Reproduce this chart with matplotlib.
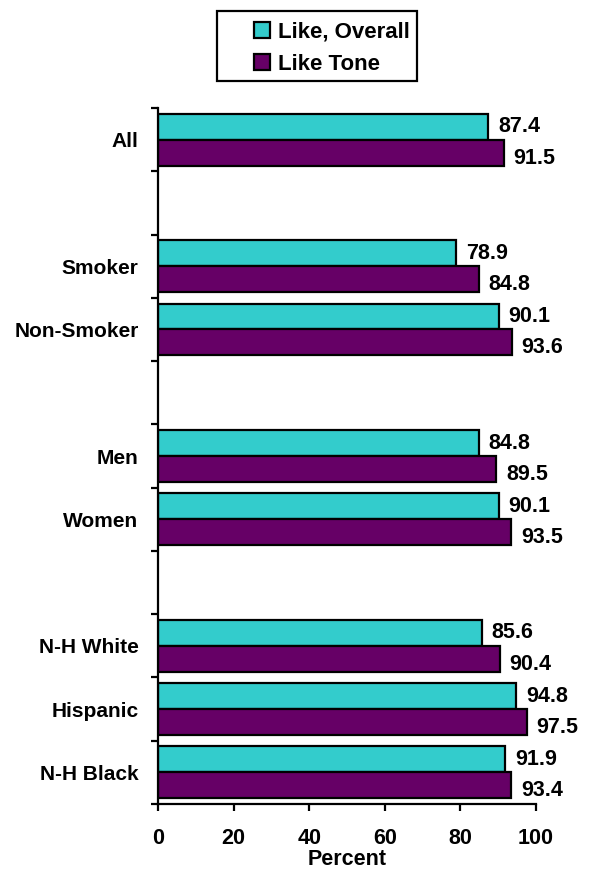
import matplotlib
matplotlib.use("Agg")
import matplotlib.pyplot as plt
from matplotlib.patches import Rectangle
import numpy as np

categories = ["All", "", "Smoker", "Non-Smoker", "", "Men", "Women", "", "N-H White", "Hispanic", "N-H Black"]
like_overall = [87.4, None, 78.9, 90.1, None, 84.8, 90.1, None, 85.6, 94.8, 91.9]
like_tone = [91.5, None, 84.8, 93.6, None, 89.5, 93.5, None, 90.4, 97.5, 93.4]
series_names = ["Like, Overall", "Like Tone"]
x_ticks = [0, 20, 40, 60, 80, 100]

plt.rcParams['font.family'] = ['Liberation Sans', 'DejaVu Sans']
plt.rcParams['font.weight'] = 'bold'

W, H = 589, 875
fig = plt.figure(figsize=(W/100, H/100), dpi=100)
ax = fig.add_axes([158/W, 1 - 804/H, (536-158)/W, (804-108)/H])

n = len(categories)
pos = np.arange(n)
h = 0.41
c1, c2 = "#33CCCC", "#660066"
fs = 15.5
for i in range(n):
    if like_overall[i] is None:
        continue
    ax.barh(pos[i] - h/2, like_overall[i], height=h, color=c1, edgecolor="black", linewidth=1.6,
            label=series_names[0] if i == 0 else None)
    ax.barh(pos[i] + h/2, like_tone[i], height=h, color=c2, edgecolor="black", linewidth=1.6,
            label=series_names[1] if i == 0 else None)
    ax.annotate(f"{like_overall[i]:.1f}", (like_overall[i], pos[i] - h/2), xytext=(7, 0),
                textcoords="offset points", va="center", ha="left", fontsize=fs, fontweight="bold")
    ax.annotate(f"{like_tone[i]:.1f}", (like_tone[i], pos[i] + h/2), xytext=(7, -4),
                textcoords="offset points", va="center", ha="left", fontsize=fs, fontweight="bold")

ax.set_ylim(n - 0.5, -0.5)
ax.set_xlim(0, 100)
ax.set_yticks(pos)
ax.set_yticklabels(categories, fontsize=15, fontweight="bold")
ax.tick_params(axis="y", which="major", length=0, pad=14)
ax.set_yticks(np.arange(n + 1) - 0.5, minor=True)
ax.tick_params(axis="y", which="minor", length=5, width=1.6, direction="out")
ax.set_xticks(x_ticks)
ax.set_xticklabels([str(t) for t in x_ticks], fontsize=fs, fontweight="bold")
ax.tick_params(axis="x", length=5, width=1.6, direction="out", pad=12)
ax.set_xlabel("Percent", fontsize=fs, fontweight="bold", labelpad=0)
for s in ["top", "right"]:
    ax.spines[s].set_visible(False)
for s in ["left", "bottom"]:
    ax.spines[s].set_linewidth(1.6)

# legend box
fig.patches.append(Rectangle((217/W, 1 - 81/H), (417-217)/W, 70/H, transform=fig.transFigure,
                             facecolor="white", edgecolor="black", linewidth=1.6, zorder=0))
leg = fig.legend(loc="upper left", bbox_to_anchor=(238/W, 1 - 6/H), frameon=False,
                 handlelength=0.75, handleheight=0.75, handletextpad=0.35,
                 borderpad=0.2, labelspacing=0.5, prop={"weight": "bold", "size": 16})

fig.savefig("out.png", dpi=100)
